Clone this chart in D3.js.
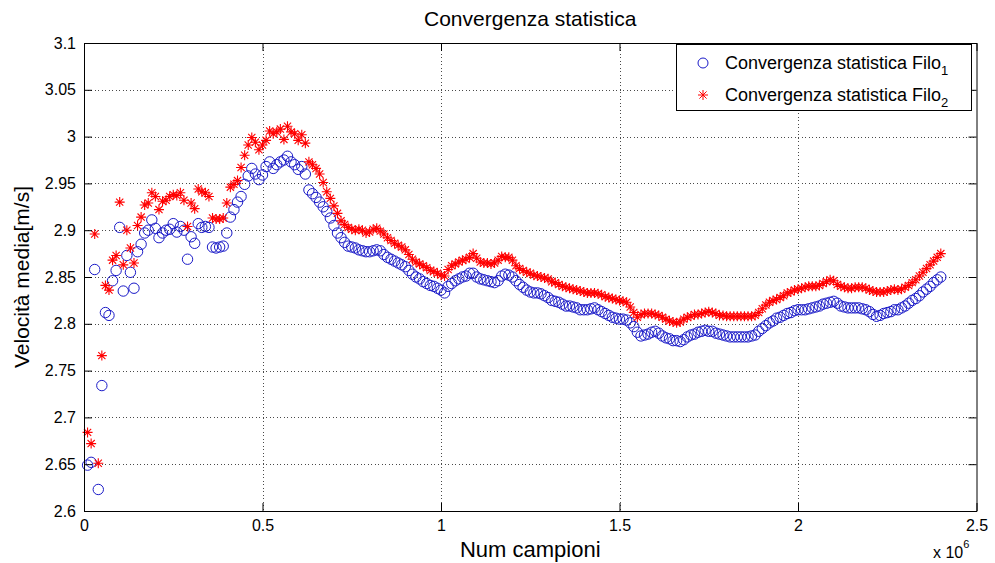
<!DOCTYPE html>
<html>
<head>
<meta charset="utf-8">
<script src="https://cdn.jsdelivr.net/npm/d3@7"></script>
<style>
  html, body { margin: 0; padding: 0; background: #ffffff; }
  svg { display: block; font-family: "Liberation Sans", Arial, Helvetica, sans-serif; }
</style>
</head>
<body>
<svg id="chart" width="995" height="563"></svg>
<script>
// Sample positions are in millions of samples (axis multiplier x 10^6)
const sampleStep = 0.01;

// Mean velocity [m/s], wire 1 (circles)
const filo1 = [
  2.649, 2.652, 2.858, 2.623, 2.734, 2.812, 2.809, 2.846, 2.857, 2.903,
  2.835, 2.873, 2.855, 2.838, 2.877, 2.885, 2.897, 2.900, 2.911, 2.902,
  2.892, 2.897, 2.900, 2.901, 2.907, 2.898, 2.904, 2.900, 2.869, 2.893,
  2.886, 2.907, 2.903, 2.904, 2.903, 2.882, 2.881, 2.882, 2.883, 2.897,
  2.914, 2.922, 2.930, 2.936, 2.949, 2.958, 2.966, 2.960, 2.954, 2.959,
  2.968, 2.973, 2.966, 2.970, 2.973, 2.975, 2.979, 2.973, 2.970, 2.965,
  2.968, 2.960, 2.943, 2.939, 2.935, 2.930, 2.925, 2.920, 2.913, 2.905,
  2.897, 2.892, 2.887, 2.883, 2.882, 2.881, 2.879, 2.878, 2.877, 2.877,
  2.878, 2.879, 2.878, 2.874, 2.871, 2.869, 2.867, 2.865, 2.863, 2.861,
  2.857, 2.853, 2.850, 2.848, 2.845, 2.843, 2.841, 2.840, 2.838, 2.836,
  2.833, 2.840, 2.843, 2.846, 2.848, 2.850, 2.851, 2.854, 2.854, 2.850,
  2.848, 2.847, 2.846, 2.845, 2.844, 2.846, 2.851, 2.853, 2.852, 2.850,
  2.846, 2.842, 2.839, 2.836, 2.834, 2.833, 2.833, 2.832, 2.830, 2.828,
  2.825, 2.824, 2.823, 2.821, 2.819, 2.819, 2.818, 2.817, 2.815, 2.815,
  2.815, 2.816, 2.817, 2.815, 2.813, 2.811, 2.809, 2.807, 2.806, 2.805,
  2.805, 2.804, 2.801, 2.797, 2.791, 2.787, 2.788, 2.789, 2.791, 2.792,
  2.790, 2.787, 2.785, 2.784, 2.782, 2.782, 2.781, 2.783, 2.786, 2.788,
  2.789, 2.791, 2.792, 2.793, 2.792, 2.792, 2.790, 2.789, 2.788, 2.787,
  2.786, 2.786, 2.786, 2.786, 2.786, 2.786, 2.787, 2.788, 2.792, 2.795,
  2.798, 2.801, 2.803, 2.806, 2.807, 2.809, 2.811, 2.812, 2.814, 2.815,
  2.815, 2.815, 2.816, 2.817, 2.818, 2.819, 2.821, 2.822, 2.823, 2.824,
  2.822, 2.819, 2.818, 2.817, 2.817, 2.817, 2.817, 2.816, 2.815, 2.813,
  2.810, 2.808, 2.809, 2.811, 2.812, 2.813, 2.815, 2.815, 2.817, 2.819,
  2.822, 2.825, 2.827, 2.830, 2.834, 2.837, 2.840, 2.844, 2.847, 2.850
];

// Mean velocity [m/s], wire 2 (asterisks)
const filo2 = [
  2.684, 2.672, 2.896, 2.651, 2.766, 2.841, 2.836, 2.868, 2.873, 2.930,
  2.863, 2.900, 2.881, 2.865, 2.905, 2.914, 2.927, 2.929, 2.940, 2.936,
  2.922, 2.931, 2.932, 2.936, 2.938, 2.937, 2.940, 2.932, 2.904, 2.929,
  2.923, 2.944, 2.941, 2.940, 2.936, 2.913, 2.912, 2.912, 2.913, 2.929,
  2.946, 2.949, 2.953, 2.967, 2.980, 2.991, 2.999, 2.994, 2.986, 2.991,
  2.996, 3.006, 3.003, 3.005, 3.008, 2.997, 3.011, 3.005, 3.003, 2.996,
  3.002, 2.993, 2.973, 2.970, 2.966, 2.960, 2.951, 2.941, 2.934, 2.926,
  2.918, 2.910, 2.906, 2.903, 2.901, 2.900, 2.901, 2.900, 2.897, 2.898,
  2.901, 2.902, 2.899, 2.896, 2.892, 2.889, 2.886, 2.884, 2.882, 2.879,
  2.874, 2.869, 2.866, 2.864, 2.862, 2.860, 2.857, 2.856, 2.854, 2.852,
  2.851, 2.858, 2.862, 2.864, 2.866, 2.868, 2.869, 2.871, 2.875, 2.870,
  2.866, 2.865, 2.865, 2.864, 2.865, 2.868, 2.872, 2.871, 2.871, 2.868,
  2.862, 2.859, 2.857, 2.855, 2.854, 2.852, 2.851, 2.850, 2.849, 2.848,
  2.845, 2.844, 2.842, 2.840, 2.839, 2.838, 2.837, 2.836, 2.835, 2.834,
  2.833, 2.833, 2.833, 2.832, 2.831, 2.829, 2.828, 2.827, 2.826, 2.825,
  2.824, 2.823, 2.818, 2.812, 2.807, 2.810, 2.811, 2.811, 2.811, 2.810,
  2.809, 2.807, 2.805, 2.803, 2.802, 2.801, 2.802, 2.805, 2.807, 2.808,
  2.810, 2.810, 2.811, 2.812, 2.813, 2.812, 2.811, 2.809, 2.809, 2.808,
  2.808, 2.808, 2.808, 2.808, 2.808, 2.808, 2.808, 2.809, 2.812, 2.816,
  2.820, 2.823, 2.825, 2.826, 2.828, 2.830, 2.833, 2.834, 2.836, 2.837,
  2.838, 2.839, 2.840, 2.840, 2.840, 2.841, 2.843, 2.845, 2.847, 2.846,
  2.842, 2.840, 2.839, 2.838, 2.838, 2.839, 2.839, 2.839, 2.838, 2.836,
  2.835, 2.834, 2.834, 2.834, 2.835, 2.836, 2.837, 2.836, 2.837, 2.839,
  2.841, 2.844, 2.847, 2.851, 2.855, 2.859, 2.863, 2.867, 2.871, 2.875
];

const xTicks = [0, 0.5, 1, 1.5, 2, 2.5];
const xTickLabels = ["0", "0.5", "1", "1.5", "2", "2.5"];
const yTicks = [2.6, 2.65, 2.7, 2.75, 2.8, 2.85, 2.9, 2.95, 3, 3.05, 3.1];
const yTickLabels = ["2.6", "2.65", "2.7", "2.75", "2.8", "2.85", "2.9", "2.95", "3", "3.05", "3.1"];

const titleText = "Convergenza statistica";
const xLabelText = "Num campioni";
const yLabelText = "Velocità media[m/s]";
const legendNames = ["Convergenza statistica Filo", "Convergenza statistica Filo"];
const legendSubs = ["1", "2"];

const W = 995, H = 563;
const m = { left: 84, right: 18.5, top: 43, bottom: 52 };

const svg = d3.select("#chart");
const x = d3.scaleLinear().domain([0, 2.5]).range([m.left, W - m.right]);
const y = d3.scaleLinear().domain([2.6, 3.1]).range([H - m.bottom, m.top]);

const pts1 = filo1.map((v, i) => ({ x: (i + 1) * sampleStep, y: v }));
const pts2 = filo2.map((v, i) => ({ x: (i + 1) * sampleStep, y: v }));

// Plot background
svg.append("rect")
  .attr("x", x(0)).attr("y", y(3.1))
  .attr("width", x(2.5) - x(0)).attr("height", y(2.6) - y(3.1))
  .attr("fill", "#ffffff");

// Dotted grid
const grid = svg.append("g").attr("stroke", "#4a4a4a").attr("stroke-width", 1)
  .attr("stroke-dasharray", "1,2.5").attr("shape-rendering", "crispEdges");
grid.selectAll("line.gx").data(xTicks.slice(1, -1)).join("line")
  .attr("x1", d => Math.round(x(d)) + 0.5).attr("x2", d => Math.round(x(d)) + 0.5)
  .attr("y1", y(3.1)).attr("y2", y(2.6));
grid.selectAll("line.gy").data(yTicks.slice(1, -1)).join("line")
  .attr("y1", d => Math.round(y(d)) + 0.5).attr("y2", d => Math.round(y(d)) + 0.5)
  .attr("x1", x(0)).attr("x2", x(2.5));

// Markers: circles for wire 1, asterisks for wire 2
const blue = "#1a1ac8", red = "#ff0000";
svg.append("g").selectAll("circle").data(pts1).join("circle")
  .attr("cx", d => x(d.x)).attr("cy", d => y(d.y)).attr("r", 5.2)
  .attr("fill", "none").attr("stroke", blue).attr("stroke-width", 1);

const starPath = "M-5,0H5M0,-5V5M-3.6,-3.6L3.6,3.6M-3.6,3.6L3.6,-3.6";
svg.append("g").selectAll("path").data(pts2).join("path")
  .attr("d", starPath)
  .attr("transform", d => `translate(${x(d.x)},${y(d.y)})`)
  .attr("fill", "none").attr("stroke", red).attr("stroke-width", 1.1);

// Axes with inward ticks on all four sides
const tickLen = 8;
const fmtX = (d) => xTickLabels[xTicks.indexOf(d)];
const fmtY = (d) => yTickLabels[yTicks.indexOf(d)];

function styleAxis(g) {
  g.selectAll("path.domain").attr("stroke", "#000").attr("stroke-width", 1);
  g.selectAll(".tick line").attr("stroke", "#000").attr("stroke-width", 1);
  g.selectAll("text").attr("fill", "#000").attr("font-size", 16)
    .attr("font-family", "'Liberation Sans', Arial, sans-serif");
}

svg.append("g").attr("transform", `translate(0,${y(2.6)})`)
  .call(d3.axisBottom(x).tickValues(xTicks).tickFormat(fmtX)
    .tickSizeInner(-tickLen).tickSizeOuter(0).tickPadding(9))
  .call(styleAxis);
svg.append("g").attr("transform", `translate(0,${y(3.1)})`)
  .call(d3.axisTop(x).tickValues(xTicks).tickFormat("")
    .tickSizeInner(-tickLen).tickSizeOuter(0))
  .call(styleAxis);
svg.append("g").attr("transform", `translate(${x(0)},0)`)
  .call(d3.axisLeft(y).tickValues(yTicks).tickFormat(fmtY)
    .tickSizeInner(-tickLen).tickSizeOuter(0).tickPadding(8))
  .call(styleAxis);
svg.append("g").attr("transform", `translate(${x(2.5)},0)`)
  .call(d3.axisRight(y).tickValues(yTicks).tickFormat("")
    .tickSizeInner(-tickLen).tickSizeOuter(0))
  .call(styleAxis);

// Multiplier label
const mult = svg.append("text").attr("x", 933).attr("y", 558)
  .attr("font-size", 16).attr("fill", "#000");
mult.append("tspan").text("x 10");
mult.append("tspan").attr("font-size", 11).attr("dy", -10).text("6");

// Title and axis labels
svg.append("text").attr("x", (x(0) + x(2.5)) / 2).attr("y", 26)
  .attr("text-anchor", "middle").attr("font-size", 21).attr("fill", "#000")
  .text(titleText);
svg.append("text").attr("x", (x(0) + x(2.5)) / 2).attr("y", 557)
  .attr("text-anchor", "middle").attr("font-size", 22).attr("fill", "#000")
  .text(xLabelText);
svg.append("text")
  .attr("transform", `translate(29,${(y(2.6) + y(3.1)) / 2}) rotate(-90)`)
  .attr("text-anchor", "middle").attr("font-size", 21).attr("fill", "#000")
  .text(yLabelText);

// Legend
const lg = svg.append("g");
lg.append("rect").attr("x", 676.5).attr("y", 44.5).attr("width", 295).attr("height", 66)
  .attr("fill", "#fff").attr("stroke", "#000").attr("stroke-width", 1);
const rowsY = [63, 95];
lg.append("circle").attr("cx", 703).attr("cy", rowsY[0]).attr("r", 5)
  .attr("fill", "none").attr("stroke", blue);
lg.append("path").attr("d", starPath).attr("transform", `translate(703,${rowsY[1]})`)
  .attr("fill", "none").attr("stroke", red);
legendNames.forEach((name, i) => {
  const t = lg.append("text").attr("x", 725).attr("y", rowsY[i] + 6)
    .attr("font-size", 18).attr("fill", "#000");
  t.append("tspan").text(name);
  t.append("tspan").attr("font-size", 13).attr("dy", 6).text(legendSubs[i]);
});
</script>
</body>
</html>
